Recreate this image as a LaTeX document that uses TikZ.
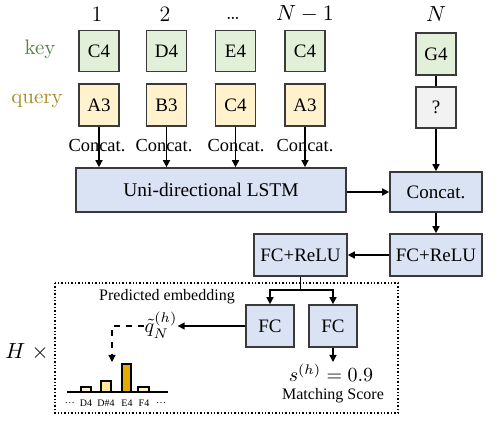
\documentclass[tikz,border=0pt]{standalone}
\usepackage{fontspec}
\newfontfamily\tms{Liberation Serif}
\usetikzlibrary{arrows.meta,calc}
\definecolor{keyfill}{HTML}{E2EFD9}
\definecolor{qfill}{HTML}{FFF2CC}
\definecolor{grayfill}{HTML}{F2F2F2}
\definecolor{bluefill}{HTML}{DAE3F3}
\definecolor{keytxt}{HTML}{5A8045}
\definecolor{qtxt}{HTML}{A88B20}
\definecolor{bord}{HTML}{3A3A3A}
\definecolor{barE}{HTML}{E2AC00}
\definecolor{barD}{HTML}{FFE699}
\begin{document}
\begin{tikzpicture}[x=0.5pt,y=-0.5pt,
  box/.style={draw=bord,line width=0.8pt,inner sep=0pt,font=\tms\fontsize{9.5}{11}\selectfont},
  keybox/.style={box,fill=keyfill,minimum width=20pt,minimum height=20.5pt},
  qbox/.style={box,fill=qfill,minimum width=20pt,minimum height=21pt},
  gbox/.style={box,fill=grayfill,minimum width=20pt,minimum height=20.5pt},
  bbox/.style={box,fill=bluefill},
  arr/.style={line width=0.7pt,-{Triangle[length=3.5pt,width=3.5pt]}},
  ln/.style={line width=0.7pt},
  cat/.style={font=\tms\fontsize{9.2}{11}\selectfont,inner sep=0pt},
  idx/.style={font=\fontsize{11}{13}\selectfont,inner sep=0pt},
  small/.style={font=\tms\fontsize{8}{10}\selectfont,inner sep=0pt},
  tiny/.style={font=\tms\fontsize{5}{6}\selectfont,inner sep=0pt},
  bar/.style={draw=black,line width=0.6pt}
]
\useasboundingbox (0,0) rectangle (500,427);

% column indices
\node[idx] (i1) at (97,14) {1};
\node[idx] (i2) at (165,14) {2};
\node[idx,anchor=base] (i3) at (233,20) {\ldots};
\node[idx] (i4) at (305,14) {$N-1$};
\node[idx] (i5) at (436,14) {$N$};

% row labels
\node[font=\fontsize{10.5}{12}\selectfont,text=keytxt,inner sep=0pt] (lk) at (40,49) {key};
\node[font=\fontsize{10.5}{12}\selectfont,text=qtxt,inner sep=0pt] (lq) at (37,101) {query};

% key boxes
\node[keybox] (k1) at (99,51) {C4};
\node[keybox] (k2) at (166.5,51) {D4};
\node[keybox] (k3) at (235.5,51) {E4};
\node[keybox] (k4) at (305,51) {C4};
\node[keybox,minimum height=21pt] (k5) at (436,54) {G4};

% query boxes
\node[qbox] (q1) at (99,105) {A3};
\node[qbox] (q2) at (166.5,105) {B3};
\node[qbox] (q3) at (235.5,105) {C4};
\node[qbox] (q4) at (305,105) {A3};
\node[gbox] (q5) at (436,107.5) {?};

\draw[ln] (k5) -- (q5);

% LSTM and concat
\node[bbox,minimum width=135pt,minimum height=22pt,font=\tms\fontsize{9.7}{11}\selectfont] (lstm) at (211,190) {Uni-directional LSTM};
\node[bbox,minimum width=46pt,minimum height=20pt] (cc) at (436,192) {Concat.};

\node[cat] (c1) at (97,146) {Concat.};
\node[cat] (c2) at (164,146) {Concat.};
\node[cat] (c3) at (236,146) {Concat.};
\node[cat] (c4) at (305,146) {Concat.};
\foreach \i in {1,2,3,4}{
  \draw[arr] (q\i.south) -- (q\i.south |- lstm.north);
}

\draw[arr] (q5) -- (cc);
\draw[arr] (lstm.east |- cc.west) -- (cc.west);

% FC+ReLU
\node[bbox,minimum width=46pt,minimum height=21pt] (fr2) at (436,255) {FC+ReLU};
\node[bbox,minimum width=46.5pt,minimum height=21pt] (fr1) at (300.5,255) {FC+ReLU};
\draw[arr] (cc) -- (fr2);
\draw[arr] (fr2) -- (fr1);

% dotted frame
\draw[densely dotted,line width=0.7pt] (55,283) rectangle (398,413);
\node[font=\fontsize{11}{13}\selectfont,inner sep=0pt] (hx) at (27,352) {$H\;\times$};

% FC heads
\node[bbox,minimum width=24pt,minimum height=21pt] (fc1) at (270,326) {FC};
\node[bbox,minimum width=24pt,minimum height=21pt] (fc2) at (333,326) {FC};
\coordinate (sp) at (300.5,290);
\draw[ln] (fr1.south) -- (sp);
\draw[arr] (sp) -| (fc1.north);
\draw[arr] (sp) -| (fc2.north);

% matching score
\coordinate (stip) at (333,362);
\draw[arr] (fc2.south) -- (stip);
\node[inner sep=0pt] (sc) at (331,373) {$s^{(h)}=0.9$};
\node[small] (ms) at (333,396) {Matching Score};

% predicted embedding
\node[small] (pe) at (167,297) {Predicted embedding};
\node[inner sep=0pt] (qt) at (161,325) {$\tilde{q}_N^{(h)}$};
\draw[arr] (fc1.west) -- (qt.east |- fc1.west);
\coordinate (dtip) at (112,362);
\draw[line width=0.6pt,dashed,-{Triangle[length=3.5pt,width=3.5pt]}] (qt.west |- fc1.west) -| (dtip);

% bar chart
\draw[bar,fill=qfill] (81,392) rectangle (91,387);
\draw[bar,fill=barD] (101,392) rectangle (111,381);
\draw[bar,fill=barE] (122,392) rectangle (131,364);
\draw[bar,fill=qfill] (138,392) rectangle (149,387);
\draw[line width=0.7pt] (67,392) -- (168,392);
\node[tiny] (b0) at (70,403) {\ldots};
\node[tiny] (b1) at (86,403) {D4};
\node[tiny] (b2) at (106,403) {D\#4};
\node[tiny] (b3) at (127,403) {E4};
\node[tiny] (b4) at (144,403) {F4};
\node[tiny] (b5) at (161,403) {\ldots};
\end{tikzpicture}
\end{document}
